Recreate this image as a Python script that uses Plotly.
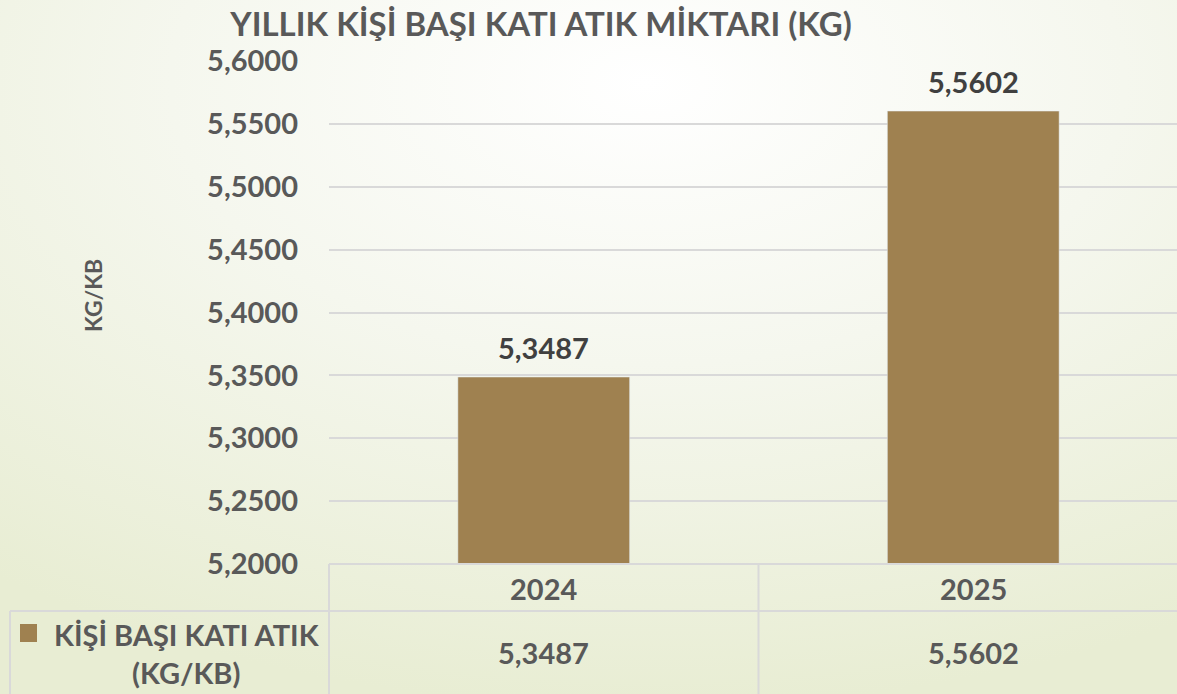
import base64
import plotly.graph_objects as go

# veri
yillar = ["2024", "2025"]
atik_kg = [5.3487, 5.5602]
seri_adi = "KİŞİ BAŞI KATI ATIK<br>(KG/KB)"
baslik = "YILLIK KİŞİ BAŞI KATI ATIK MİKTARI (KG)"
eksen_adi = "KG/KB"

YAZI = "#595959"
KOYU = "#404040"
BAR = "#9F8150"
CIZGI = "#D9D9D9"
FONT = "Lato"

# arka plan gradyani (excel temasi gibi)
svg = """<svg xmlns='http://www.w3.org/2000/svg' width='1177' height='694' preserveAspectRatio='none'>
<defs><radialGradient id='g' cx='55%' cy='12%' r='90%'>
<stop offset='0%' stop-color='#FFFFFF'/><stop offset='45%' stop-color='#F5F7EE'/>
<stop offset='100%' stop-color='#E8EDD3'/></radialGradient></defs>
<rect width='1177' height='694' fill='url(#g)'/></svg>"""
bg = "data:image/svg+xml;base64," + base64.b64encode(svg.encode()).decode()

fig = go.Figure()
fig.add_trace(go.Bar(x=yillar, y=atik_kg, marker_color=BAR, hoverinfo="x+y"))

# plot alani: x 329..1177, y 61..564 (kategori genisligi ~430px, sag kenar biraz tasiyor)
L, T, B = 329, 61, 564
W, H = 1177 - L, B - T
KAT = 429.5
def px(x):
    return (x - L) / W
def py(y):
    return (B - y) / H

shapes = [
    dict(type="line", xref="paper", yref="paper", x0=0, x1=1, y0=0, y1=0),
    dict(type="line", xref="paper", yref="paper", x0=px(10), x1=1, y0=py(611), y1=py(611)),
    dict(type="line", xref="paper", yref="paper", x0=px(10), x1=px(10), y0=py(611), y1=py(694)),
    dict(type="line", xref="paper", yref="paper", x0=0, x1=0, y0=0, y1=py(694)),
    dict(type="line", xref="x", yref="paper", x0=0.5, x1=0.5, y0=0, y1=py(694)),
    dict(type="rect", xref="paper", yref="paper", x0=px(20), x1=px(37), y0=py(642), y1=py(624),
         fillcolor=BAR, line_width=0),
]
for s in shapes:
    s.setdefault("line", dict(color=CIZGI, width=2))
    s["layer"] = "above"

def yazi(boyut, renk=YAZI):
    return dict(size=boyut, color=renk, family=FONT, weight="bold")

ann = [
    dict(text=eksen_adi, xref="paper", yref="paper", x=px(93), y=py(296), textangle=-90,
         font=yazi(23)),
    dict(text=seri_adi, xref="paper", yref="paper", x=px(187), y=py(653), font=yazi(29),
         align="center"),
]
for i, (yil, deger) in enumerate(zip(yillar, atik_kg)):
    etiket = f"{deger:.4f}".replace(".", ",")
    # bar ustu veri etiketi
    ann.append(dict(text=etiket, xref="x", yref="y", x=i, y=deger, yshift=30,
                    font=yazi(29, KOYU)))
    # tablo hucreleri
    ann.append(dict(text=yil, xref="x", yref="paper", x=i, y=py(588), font=yazi(29)))
    ann.append(dict(text=etiket, xref="x", yref="paper", x=i, y=py(652), font=yazi(29)))
for a in ann:
    a.update(showarrow=False, xanchor="center", yanchor="middle")

fig.update_layout(
    width=1177, height=694,
    margin=dict(l=L, r=0, t=T, b=694 - B),
    paper_bgcolor="#F3F6EA", plot_bgcolor="rgba(0,0,0,0)",
    separators=",.",
    bargap=0.6, showlegend=False,
    font=dict(family=FONT, color=YAZI),
    title=dict(text=baslik, x=px(541), xref="paper", xanchor="center",
               y=1 - 24 / 694, yanchor="middle", font=yazi(33)),
    images=[dict(source=bg, xref="paper", yref="paper", x=px(0), y=py(0),
                 sizex=1 - px(0), sizey=py(0) - py(694), sizing="stretch",
                 xanchor="left", yanchor="top", layer="below")],
    shapes=shapes, annotations=ann,
)
fig.update_xaxes(type="category", range=[-0.5, -0.5 + W / KAT], showticklabels=False,
                 showgrid=False, zeroline=False)
fig.update_yaxes(range=[5.2, 5.6], dtick=0.05, tickformat=".4f", showgrid=True,
                 gridcolor=CIZGI, gridwidth=2, zeroline=False, ticklabelstandoff=30,
                 tickfont=yazi(29))

fig.write_html("out.html", config={"displayModeBar": False},
               post_script="document.body.style.margin='0';")
